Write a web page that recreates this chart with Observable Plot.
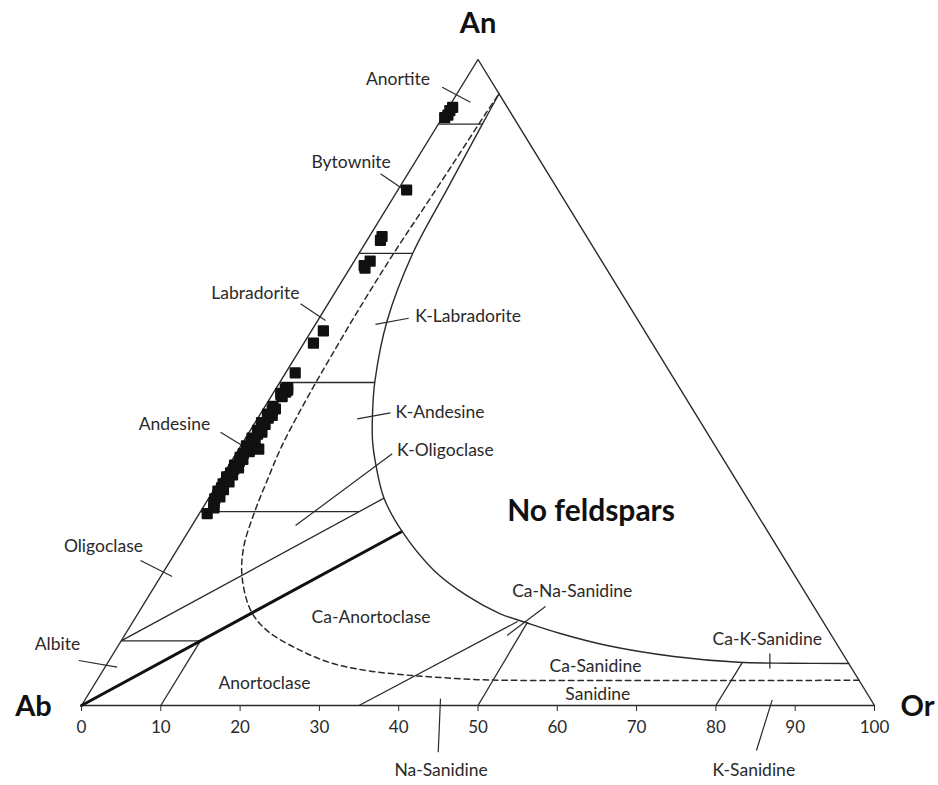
<!DOCTYPE html>
<html><head><meta charset="utf-8">
<script src="https://cdn.jsdelivr.net/npm/d3@7"></script>
<script src="https://cdn.jsdelivr.net/npm/@observablehq/plot@0.6"></script>
<style>body{margin:0;background:#fff}</style>
</head><body><div id="chart"></div>
<script>
// ---- Ternary feldspar diagram (An–Ab–Or), compositions in mol % ----
// vertices
const vertexNames = ["Ab", "Or", "An"];
const vertexAn = [0, 0, 100];
const vertexOr = [0, 100, 0];

// bottom axis (Or scale along the Ab–Or join)
const tickValues = [0, 10, 20, 30, 40, 50, 60, 70, 80, 90, 100];
const tickLabels = ["0", "10", "20", "30", "40", "50", "60", "70", "80", "90", "100"];

// solid boundary of the feldspar field (An %, Or %)
const solidAn = [94.7, 90, 80, 70.2, 59.6, 50.2, 45.2, 41, 37.4, 32.1, 26.9, 20.9, 17.0, 14.2, 12.85, 11.15, 9.29, 7.59, 6.7, 6.55, 6.5];
const solidOr = [5.3, 5.55, 6.15, 6.75, 8.75, 11.9, 14.1, 16.2, 18.4, 22.1, 27.0, 34.0, 40.1, 45.7, 49.6, 54.8, 61.65, 70.9, 79.5, 86, 93.5];

// dashed boundary (An %, Or %)
const dashedAn = [94.4, 91.6, 85, 78, 71, 62.7, 53.9, 46.7, 40, 34.8, 29.7, 24.5, 19.9, 14.7, 11.6, 8.5, 6.45, 5.4, 4.8, 4.4, 4.0, 3.9, 3.9];
const dashedOr = [5.3, 5.15, 4.95, 4.7, 4.4, 4.3, 4.45, 4.7, 5.2, 6.0, 6.9, 8.2, 10.3, 14.0, 17.6, 23.4, 28.6, 33.3, 37.8, 42.2, 48, 52, 96.1];

// thin field divisions: start (An, Or) -> end (An, Or)
const divAn1 = [90, 70, 50, 30, 10, 10, 0, 0, 0, 0];
const divOr1 = [0, 0, 0, 0, 0, 0, 10, 35, 50, 80];
const divAn2 = [90, 70, 50, 30, 10, 32.1, 10, 13.0, 12.9, 6.6];
const divOr2 = [5.55, 6.8, 12, 20, 10, 22.1, 10, 48.5, 49.8, 80];

// heavy An = Or join
const heavyAn = [0, 26.9];
const heavyOr = [0, 26.9];

// analysed feldspars (An %, Or %)
const sampleAn = [92.6, 92.1, 91.4, 91.0, 79.8, 72.6, 72.0, 68.8, 68.1, 67.7, 58.0, 56.1, 51.5,
  49.2, 49.0, 48.8, 48.5, 48.3, 48.1, 47.8, 46.3, 45.7, 45.1, 44.5, 43.8, 43.2, 42.6, 42.0, 41.4, 40.8, 40.2, 39.6,
  39.0, 38.4, 37.8, 37.2, 36.6, 36.0, 35.4, 34.9, 34.3, 33.7, 33.2, 32.6, 32.0, 31.4, 30.6, 29.7, 39.7,
  45.9, 44.9, 43.5, 42.3, 41.0, 39.3, 38.1, 36.8, 35.7, 34.6, 33.4, 32.3, 31.0];
const sampleOr = [0.5, 0.4, 0.5, 0.3, 1.1, 1.6, 1.7, 2.0, 1.6, 1.9, 1.5, 1.2, 1.2,
  1.4, 1.2, 1.6, 1.5, 1.0, 1.1, 1.4, 1.0, 1.2, 0.9, 1.3, 0.8, 1.1, 0.9, 1.2, 0.8, 1.0, 0.7, 1.1,
  0.9, 0.8, 1.0, 0.7, 0.9, 0.8, 0.6, 0.9, 0.7, 0.8, 0.6, 0.9, 0.8, 1.0, 1.4, 1.0, 2.5,
  1.5, 1.6, 1.4, 1.6, 1.4, 1.5, 1.3, 1.4, 1.2, 1.3, 1.2, 1.3, 1.2];

// field names and their anchor compositions (An %, Or %)
const fieldNames = ["Anortite", "Bytownite", "Labradorite", "K-Labradorite", "K-Andesine", "K-Oligoclase",
  "Andesine", "Oligoclase", "Albite", "Ca-Anortoclase", "Anortoclase", "Ca-Na-Sanidine", "Ca-K-Sanidine",
  "Ca-Sanidine", "Sanidine", "Na-Sanidine", "K-Sanidine"];
const fieldAn = [96.9, 84.13, 63.85, 60.22, 45.43, 39.47, 43.5, 24.61, 9.44, 13.7, 3.41, 17.69, 10.17, 6.04, 1.7, -10.06, -10.06];
const fieldOr = [-8.54, -8.06, -10.0, 18.64, 22.5, 26.15, -10.03, -9.54, -7.75, 29.66, 21.37, 53.04, 81.39, 61.8, 64.26, 50.38, 89.81];

// leader lines for field names: (An, Or) -> (An, Or)
const leadAn1 = [95.71, 82.3, 62.18, 59.0, 44.38, 27.86, 42.3, 22.45, 6.97, 10.84, 8.05, 1.04, 0.88];
const leadOr1 = [-2.37, -3.45, -3.47, 7.57, 12.58, 13.06, -3.62, -3.79, -3.83, 48.26, 82.78, 44.75, 86.66];
const leadAn2 = [93.39, 80.03, 59.6, 59.95, 45.31, 38.96, 40.25, 19.97, 5.93, 15.33, 5.73, -7.23, -6.97];
const leadOr2 = [2.35, 0.42, 0.97, 11.29, 16.31, 19.7, 0.13, 1.45, 1.53, 50.84, 83.94, 48.6, 88.6];

const noFieldName = "No feldspars";
const noFieldAn = 30.03, noFieldOr = 49.24;

// ---- ternary -> cartesian (x = Or + An/2, y = An) ----
const tx = (an, or) => or + an / 2;
const pts = (A, O) => A.map((a, i) => ({x: tx(a, O[i]), y: a}));
const segs = (A1, O1, A2, O2) => A1.map((a, i) => ({x1: tx(a, O1[i]), y1: a, x2: tx(A2[i], O2[i]), y2: A2[i]}));

const tri = pts([...vertexAn, vertexAn[0]], [...vertexOr, vertexOr[0]]);
const solid = pts(solidAn, solidOr);
const dashed = pts(dashedAn, dashedOr);
const divisions = segs(divAn1, divOr1, divAn2, divOr2);
const heavy = pts(heavyAn, heavyOr);
const samples = pts(sampleAn, sampleOr);
const fields = fieldNames.map((t, i) => ({text: t, x: tx(fieldAn[i], fieldOr[i]), y: fieldAn[i]}));
const leaders = segs(leadAn1, leadOr1, leadAn2, leadOr2);
const vertex = i => [{text: vertexNames[i], x: tx(vertexAn[i], vertexOr[i]), y: vertexAn[i]}];

const ink = "#2a2a2a";
const vertexStyle = {x: "x", y: "y", text: "text", fontSize: 29, fontWeight: "bold", fill: "#111"};

const chart = Plot.plot({
  width: 938,
  height: 785,
  marginLeft: 81,
  marginRight: 64,
  marginTop: 59,
  marginBottom: 80,
  style: {fontFamily: "Lato, 'Open Sans', sans-serif", fontSize: "17px", color: ink, background: "#fff"},
  x: {domain: [0, 100]},
  y: {domain: [0, 100], axis: null},
  marks: [
    Plot.line(tri, {x: "x", y: "y", stroke: ink, strokeWidth: 1.4}),
    Plot.link(divisions, {x1: "x1", y1: "y1", x2: "x2", y2: "y2", stroke: ink, strokeWidth: 1.3}),
    Plot.line(heavy, {x: "x", y: "y", stroke: "#111", strokeWidth: 3}),
    Plot.line(solid, {x: "x", y: "y", curve: "catmull-rom", stroke: ink, strokeWidth: 1.4}),
    Plot.line(dashed, {x: "x", y: "y", curve: "catmull-rom", stroke: ink, strokeWidth: 1.5, strokeDasharray: "5.5,4"}),
    Plot.link(leaders, {x1: "x1", y1: "y1", x2: "x2", y2: "y2", stroke: ink, strokeWidth: 1.2}),
    Plot.dot(samples, {x: "x", y: "y", symbol: "square", r: 5.2, fill: "#111", stroke: "#111", strokeWidth: 2, strokeLinejoin: "round"}),
    Plot.axisX(tickValues, {tickSize: 6, tickPadding: 9, fontSize: 17, label: null, stroke: ink, fill: ink,
      tickFormat: d => tickLabels[tickValues.indexOf(d)]}),
    Plot.text(fields, {x: "x", y: "y", text: "text", fontSize: 17.5, fill: ink}),
    Plot.text([{text: noFieldName, x: tx(noFieldAn, noFieldOr), y: noFieldAn}], {x: "x", y: "y", text: "text", fontSize: 30, fontWeight: "bold", fill: "#111"}),
    Plot.text(vertex(0), {...vertexStyle, dx: -48, dy: 1}),
    Plot.text(vertex(1), {...vertexStyle, dx: 43, dy: 1}),
    Plot.text(vertex(2), {...vertexStyle, dx: 0, dy: -36})
  ]
});

document.getElementById("chart").append(chart);
</script>
</body></html>
